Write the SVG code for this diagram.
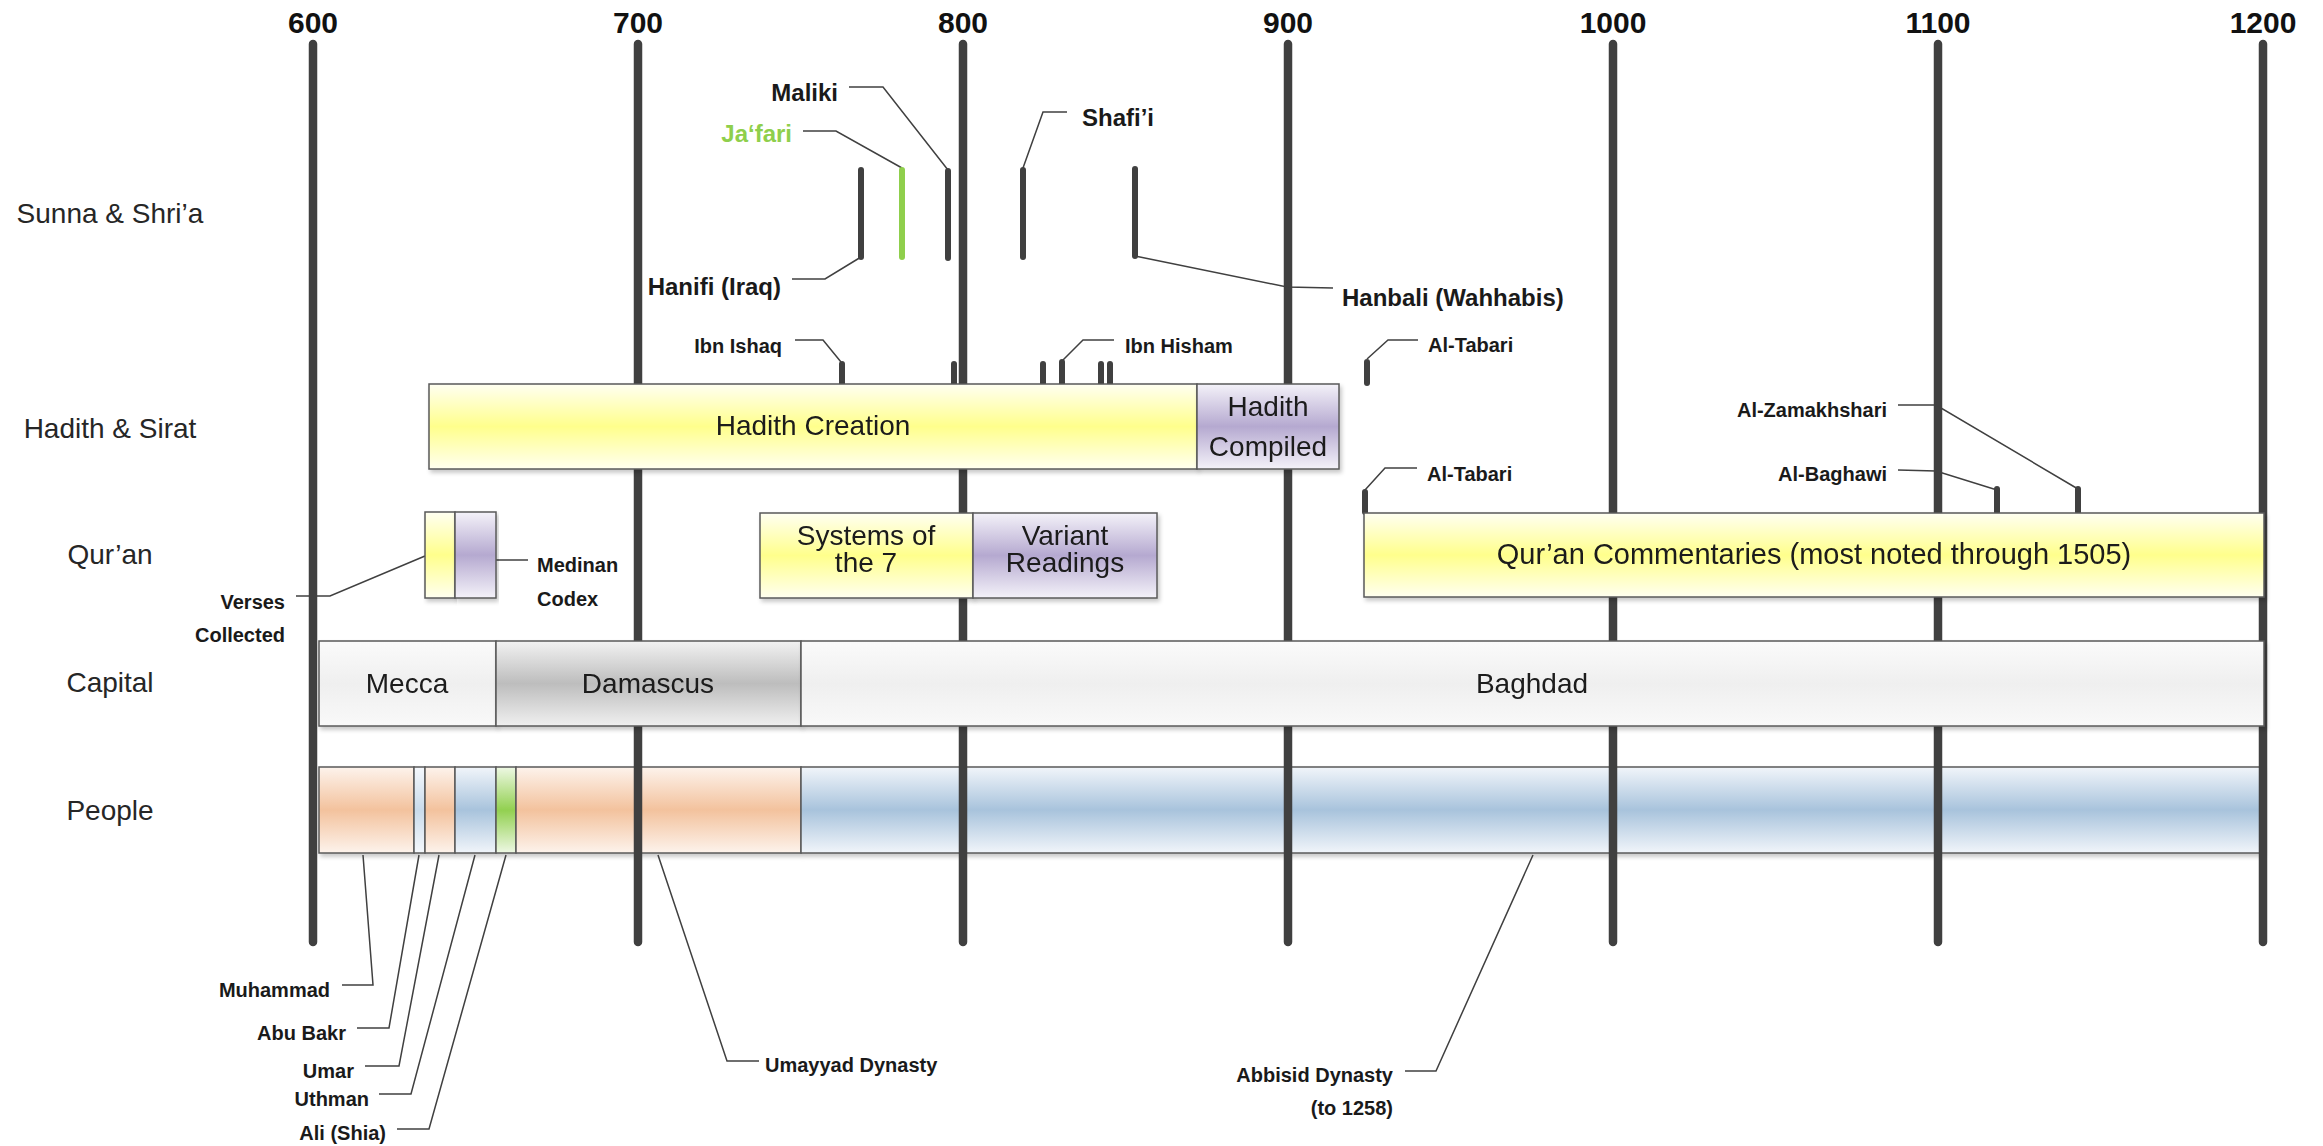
<svg xmlns="http://www.w3.org/2000/svg" width="2323" height="1146" viewBox="0 0 2323 1146">
<style>
text{font-family:"Liberation Sans",Arial,sans-serif;fill:#1a1a1a}
.row{font-size:28px;fill:#262626;text-anchor:middle}
.yr{font-size:30px;font-weight:bold;text-anchor:middle;fill:#111}
.lbl{font-size:24px;font-weight:bold}
.sm{font-size:20px;font-weight:bold}
.in{font-size:28px;text-anchor:middle}
.end{text-anchor:end}
.axis{stroke:#404040;stroke-width:8.5;stroke-linecap:round}
.bar{stroke:#404040;stroke-width:6;stroke-linecap:round}
.lead{fill:none;stroke:#404040;stroke-width:1.5}
.box{stroke:#5a5a5a;stroke-width:1.5}
.shd{filter:url(#sh)}
</style>
<defs>
<filter id="sh" x="-5%" y="-10%" width="110%" height="130%">
<feDropShadow dx="2" dy="3" stdDeviation="2" flood-color="#000" flood-opacity="0.22"/>
</filter>
<linearGradient id="gY" x1="0" y1="0" x2="0" y2="1">
<stop offset="0" stop-color="#fffff2"/><stop offset="0.5" stop-color="#ffff8c"/><stop offset="1" stop-color="#fffff0"/>
</linearGradient>
<linearGradient id="gP" x1="0" y1="0" x2="0" y2="1">
<stop offset="0" stop-color="#f4f2f9"/><stop offset="0.5" stop-color="#b5a9d0"/><stop offset="1" stop-color="#f4f2f9"/>
</linearGradient>
<linearGradient id="gL" x1="0" y1="0" x2="0" y2="1">
<stop offset="0" stop-color="#fbfbfb"/><stop offset="0.5" stop-color="#efefef"/><stop offset="1" stop-color="#f9f9f9"/>
</linearGradient>
<linearGradient id="gD" x1="0" y1="0" x2="0" y2="1">
<stop offset="0" stop-color="#f2f2f2"/><stop offset="0.5" stop-color="#bdbdbd"/><stop offset="1" stop-color="#f0f0f0"/>
</linearGradient>
<linearGradient id="gO" x1="0" y1="0" x2="0" y2="1">
<stop offset="0" stop-color="#fdf3ec"/><stop offset="0.5" stop-color="#f3c29d"/><stop offset="1" stop-color="#fdf3ec"/>
</linearGradient>
<linearGradient id="gB" x1="0" y1="0" x2="0" y2="1">
<stop offset="0" stop-color="#f1f5fa"/><stop offset="0.5" stop-color="#a8c3dc"/><stop offset="1" stop-color="#f1f5fa"/>
</linearGradient>
<linearGradient id="gB2" x1="0" y1="0" x2="0" y2="1">
<stop offset="0" stop-color="#f5f8fc"/><stop offset="0.5" stop-color="#c9dbeb"/><stop offset="1" stop-color="#f5f8fc"/>
</linearGradient>
<linearGradient id="gG" x1="0" y1="0" x2="0" y2="1">
<stop offset="0" stop-color="#eef8e4"/><stop offset="0.5" stop-color="#92d050"/><stop offset="1" stop-color="#eef8e4"/>
</linearGradient>
</defs>

<rect width="2323" height="1146" fill="#fff"/>

<g id="row-labels">
<text class="row" x="110" y="223">Sunna &amp; Shri’a</text>
<text class="row" x="110" y="438">Hadith &amp; Sirat</text>
<text class="row" x="110" y="564">Qur’an</text>
<text class="row" x="110" y="692">Capital</text>
<text class="row" x="110" y="820">People</text>
</g>

<g id="people" class="shd">
<rect class="box" x="319" y="767" width="95" height="86" fill="url(#gO)"/>
<rect class="box" x="414" y="767" width="11" height="86" fill="url(#gB2)"/>
<rect class="box" x="425" y="767" width="30" height="86" fill="url(#gO)"/>
<rect class="box" x="455" y="767" width="41" height="86" fill="url(#gB)"/>
<rect class="box" x="496" y="767" width="20" height="86" fill="url(#gG)"/>
<rect class="box" x="516" y="767" width="285" height="86" fill="url(#gO)"/>
<rect class="box" x="801" y="767" width="1461" height="86" fill="url(#gB)"/>
</g>

<g id="axis">
<line class="axis" x1="313" y1="44" x2="313" y2="942"/>
<line class="axis" x1="638" y1="44" x2="638" y2="942"/>
<line class="axis" x1="963" y1="44" x2="963" y2="942"/>
<line class="axis" x1="1288" y1="44" x2="1288" y2="942"/>
<line class="axis" x1="1613" y1="44" x2="1613" y2="942"/>
<line class="axis" x1="1938" y1="44" x2="1938" y2="942"/>
<line class="axis" x1="2263" y1="44" x2="2263" y2="942"/>
<text class="yr" x="313" y="33">600</text>
<text class="yr" x="638" y="33">700</text>
<text class="yr" x="963" y="33">800</text>
<text class="yr" x="1288" y="33">900</text>
<text class="yr" x="1613" y="33">1000</text>
<text class="yr" x="1938" y="33">1100</text>
<text class="yr" x="2263" y="33">1200</text>
</g>

<g id="connectors">
<polyline class="lead" points="849,87 883,87 948,170"/>
<polyline class="lead" points="803,131 836,131 902,168"/>
<polyline class="lead" points="1067,112 1043,112 1023,168"/>
<polyline class="lead" points="792,279 825,279 861,257"/>
<polyline class="lead" points="1135,256 1287,287 1333,288"/>
<polyline class="lead" points="795,340 823,340 841,362"/>
<polyline class="lead" points="1114,340 1083,340 1063,360"/>
<polyline class="lead" points="1418,340 1388,340 1367,359"/>
<polyline class="lead" points="1417,468 1385,468 1365,490"/>
<polyline class="lead" points="1898,405 1936,405 2078,489"/>
<polyline class="lead" points="1898,470 1936,471 1997,490"/>
<polyline class="lead" points="296,596 330,596 425,556"/>
<polyline class="lead" points="496,560 528,560"/>
<polyline class="lead" points="342,985 373,985 363,855"/>
<polyline class="lead" points="357,1028 389,1028 419,855"/>
<polyline class="lead" points="365,1066 399,1066 439,855"/>
<polyline class="lead" points="379,1094 411,1094 475,855"/>
<polyline class="lead" points="397,1129 429,1129 506,855"/>
<polyline class="lead" points="658,855 727,1061 759,1061"/>
<polyline class="lead" points="1533,855 1436,1071 1405,1071"/>
</g>

<g id="sunna-marks">
<line class="bar" x1="861" y1="170" x2="861" y2="257"/>
<line class="bar" x1="902" y1="170" x2="902" y2="257" stroke="#92d050" style="stroke:#8fcf4c"/>
<line class="bar" x1="948" y1="171" x2="948" y2="258"/>
<line class="bar" x1="1023" y1="170" x2="1023" y2="257"/>
<line class="bar" x1="1135" y1="169" x2="1135" y2="256"/>
</g>

<g id="hadith-marks">
<line class="bar" x1="842" y1="364" x2="842" y2="386"/>
<line class="bar" x1="954" y1="364" x2="954" y2="386"/>
<line class="bar" x1="1043" y1="364" x2="1043" y2="386"/>
<line class="bar" x1="1062" y1="362" x2="1062" y2="386"/>
<line class="bar" x1="1101" y1="364" x2="1101" y2="386"/>
<line class="bar" x1="1110" y1="364" x2="1110" y2="386"/>
<line class="bar" x1="1367" y1="362" x2="1367" y2="383"/>
<line class="bar" x1="1365" y1="492" x2="1365" y2="512"/>
<line class="bar" x1="1997" y1="489" x2="1997" y2="512"/>
<line class="bar" x1="2078" y1="489" x2="2078" y2="512"/>
</g>

<g id="hadith-creation" class="shd">
<rect class="box" x="429" y="384" width="768" height="85" fill="url(#gY)"/>
<text class="in" x="813" y="435">Hadith Creation</text>
</g>
<g id="hadith-compiled" class="shd">
<rect class="box" x="1197" y="384" width="142" height="85" fill="url(#gP)"/>
<text class="in" x="1268" y="416">Hadith</text>
<text class="in" x="1268" y="456">Compiled</text>
</g>

<g id="verses-collected" class="shd">
<rect class="box" x="425" y="512" width="30" height="86" fill="url(#gY)"/>
</g>
<g id="medinan-codex" class="shd">
<rect class="box" x="455" y="512" width="41" height="86" fill="url(#gP)"/>
</g>
<g id="systems-of-7" class="shd">
<rect class="box" x="760" y="513" width="213" height="85" fill="url(#gY)"/>
<text class="in" x="866" y="545">Systems of</text>
<text class="in" x="866" y="572">the 7</text>
</g>
<g id="variant-readings" class="shd">
<rect class="box" x="973" y="513" width="184" height="85" fill="url(#gP)"/>
<text class="in" x="1065" y="545">Variant</text>
<text class="in" x="1065" y="572">Readings</text>
</g>
<g id="quran-commentaries" class="shd">
<rect class="box" x="1364" y="513" width="900" height="84" fill="url(#gY)"/>
<text class="in" x="1814" y="564" style="font-size:29px">Qur’an Commentaries (most noted through 1505)</text>
</g>

<g id="capital-mecca" class="shd">
<rect class="box" x="319" y="641" width="177" height="85" fill="url(#gL)"/>
<text class="in" x="407" y="693">Mecca</text>
</g>
<g id="capital-damascus" class="shd">
<rect class="box" x="496" y="641" width="305" height="85" fill="url(#gD)"/>
<text class="in" x="648" y="693">Damascus</text>
</g>
<g id="capital-baghdad" class="shd">
<rect class="box" x="801" y="641" width="1463" height="85" fill="url(#gL)"/>
<text class="in" x="1532" y="693">Baghdad</text>
</g>

<g id="labels">
<text class="lbl end" x="838" y="101">Maliki</text>
<text class="lbl end" x="792" y="142" style="fill:#8fcf4c">Ja‘fari</text>
<text class="lbl" x="1082" y="126">Shafi’i</text>
<text class="lbl end" x="781" y="295">Hanifi (Iraq)</text>
<text class="lbl" x="1342" y="306">Hanbali (Wahhabis)</text>
<text class="sm end" x="782" y="353">Ibn Ishaq</text>
<text class="sm" x="1125" y="353">Ibn Hisham</text>
<text class="sm" x="1428" y="352">Al-Tabari</text>
<text class="sm" x="1427" y="481">Al-Tabari</text>
<text class="sm end" x="1887" y="417">Al-Zamakhshari</text>
<text class="sm end" x="1887" y="481">Al-Baghawi</text>
<text class="sm end" x="285" y="609">Verses</text>
<text class="sm end" x="285" y="642">Collected</text>
<text class="sm" x="537" y="572">Medinan</text>
<text class="sm" x="537" y="606">Codex</text>
<text class="sm end" x="330" y="997">Muhammad</text>
<text class="sm end" x="346" y="1040">Abu Bakr</text>
<text class="sm end" x="354" y="1078">Umar</text>
<text class="sm end" x="369" y="1106">Uthman</text>
<text class="sm end" x="386" y="1140">Ali (Shia)</text>
<text class="sm" x="765" y="1072">Umayyad Dynasty</text>
<text class="sm end" x="1393" y="1082">Abbisid Dynasty</text>
<text class="sm end" x="1393" y="1115">(to 1258)</text>
</g>
</svg>
